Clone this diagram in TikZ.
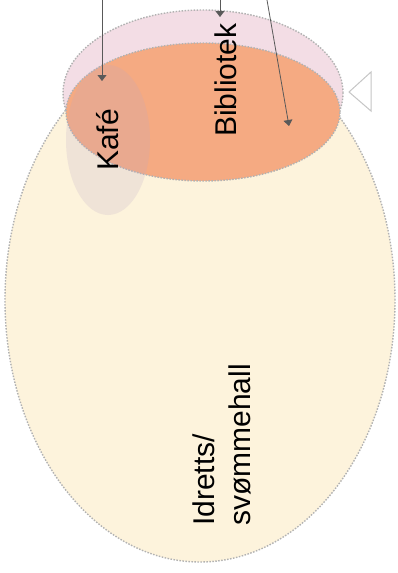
\documentclass[tikz,border=0pt]{standalone}
\usepackage{fontspec}
\setmainfont{Liberation Sans}
\usetikzlibrary{shapes.geometric,arrows.meta}
\definecolor{idrettcol}{RGB}{253,243,220}
\definecolor{overcol}{RGB}{243,221,229}
\definecolor{bibcol}{RGB}{245,170,130}
\definecolor{kafecol}{RGB}{185,165,195}

\begin{document}
\begin{tikzpicture}[x=1pt,y=-1pt]
    \pgfmathsetmacro{\fsize}{30}
    \pgfmathsetmacro{\fskip}{36}
    \tikzset{zone/.style={ellipse,draw=gray!60,line width=1.4pt,dash pattern=on 1.5pt off 1.5pt,inner sep=0pt}}
    \tikzset{roomtext/.style={rotate=90,inner sep=0pt,text=black,font=\fontsize{\fsize}{\fskip}\selectfont}}
    \tikzset{pointer/.style={draw=black!65,line width=0.8pt,-{Triangle[width=9pt,length=6pt]}}}
    \useasboundingbox[fill=white] (0,0) rectangle (398,573);
    \node[zone,fill=idrettcol,minimum width=390pt,minimum height=524pt] (idrett) at (200,300) {};
    \node[zone,fill=overcol,minimum width=280pt,minimum height=166pt] (over) at (203,93) {};
    \node[zone,fill=bibcol,minimum width=274pt,minimum height=138pt] (bib) at (203,112) {};
    \node[ellipse,fill=kafecol,opacity=0.2,inner sep=0pt,minimum width=84pt,minimum height=150pt] (kafe) at (108,140) {};
    \node[roomtext] (kafetext) at (108,140) {Kafé};
    \node[roomtext] (bibtext) at (226,80) {Bibliotek};
    \node[roomtext,anchor=south west,align=left] (idretttext) at (251,526) {Idretts/\\svømmehall};
    \coordinate (p1) at (102,0);
    \coordinate (q1) at (102,81);
    \coordinate (p2) at (220,0);
    \coordinate (q2) at (220,17);
    \coordinate (p3) at (267,0);
    \coordinate (q3) at (289,126);
    \draw[pointer] (p1) -- (q1);
    \draw[pointer] (p2) -- (q2);
    \draw[pointer] (p3) -- (q3);
    \draw[draw=gray!45,line width=1pt] (349,92) -- (371,72) -- (371,111) -- cycle;
\end{tikzpicture}
\end{document}
